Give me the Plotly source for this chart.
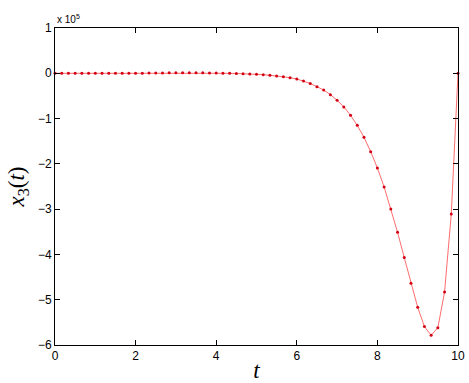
import numpy as np
import plotly.graph_objects as go

# time samples (t = i/6, i = 0..60)
t = [i / 6 for i in range(61)]

# x3(t) values in units of 1e5
x3 = [
    0, 0, 0, 0, 0, 0, 0, 0, 0, 0, 0, 0, 0,
    0.002, 0.004, 0.006, 0.008, 0.010,
    0.012, 0.012, 0.012, 0.011, 0.010,
    0.008, 0.006, 0.003,
    0.0, -0.005, -0.009, -0.015, -0.022, -0.031, -0.044, -0.060, -0.075,
    -0.097, -0.126, -0.170, -0.225, -0.296, -0.369, -0.472, -0.596, -0.742,
    -0.927, -1.150, -1.413, -1.731, -2.090, -2.510, -2.996, -3.510, -4.070,
    -4.636, -5.166, -5.594, -5.784, -5.620, -4.830, -3.110, 0.0,
]
SCALE = 1e5

x_ticks = [0, 2, 4, 6, 8, 10]
y_ticks = [1, 0, -1, -2, -3, -4, -5, -6]
y_ticklabels = [str(v).replace("-", "\u2212") for v in y_ticks]

fig = go.Figure()
fig.add_trace(go.Scatter(
    x=t, y=[v * SCALE for v in x3],
    mode="lines+markers",
    line=dict(color="rgb(255,70,70)", width=0.8),
    marker=dict(color="rgb(210,0,20)", size=3),
    showlegend=False,
    cliponaxis=False,
))

axis_common = dict(
    showgrid=False, zeroline=False, showline=True, linecolor="black",
    linewidth=1, mirror="ticks", ticks="inside", ticklen=5, tickcolor="black",
    automargin=False,
    tickfont=dict(family="Liberation Sans, Arial", size=12, color="black"),
)

fig.update_layout(
    width=469, height=383,
    margin=dict(l=55, r=11, t=28, b=38),
    paper_bgcolor="white", plot_bgcolor="white",
    xaxis=dict(range=[0, 10], tickvals=x_ticks, **axis_common,
               title=dict(text="<i>t</i>", font=dict(family="Liberation Serif, DejaVu Serif", size=23, color="black"),
                          standoff=3)),
    yaxis=dict(range=[-6 * SCALE, 1 * SCALE], tickvals=[v * SCALE for v in y_ticks],
               ticktext=y_ticklabels, **axis_common,
               title=dict(text="<i>x</i><sub>3</sub>(<i>t</i>)",
                          font=dict(family="Liberation Serif, DejaVu Serif", size=23, color="black"),
                          standoff=6)),
    annotations=[dict(
        text="x 10<sup>5</sup>", xref="paper", yref="paper", x=0, y=1,
        xanchor="left", yanchor="bottom", showarrow=False, yshift=1,
        font=dict(family="Liberation Sans, Arial", size=10, color="black"),
    )],
)

fig.write_html("out.html", config={"displayModeBar": False},
               post_script="document.body.style.margin='0';document.body.style.overflow='hidden';")
